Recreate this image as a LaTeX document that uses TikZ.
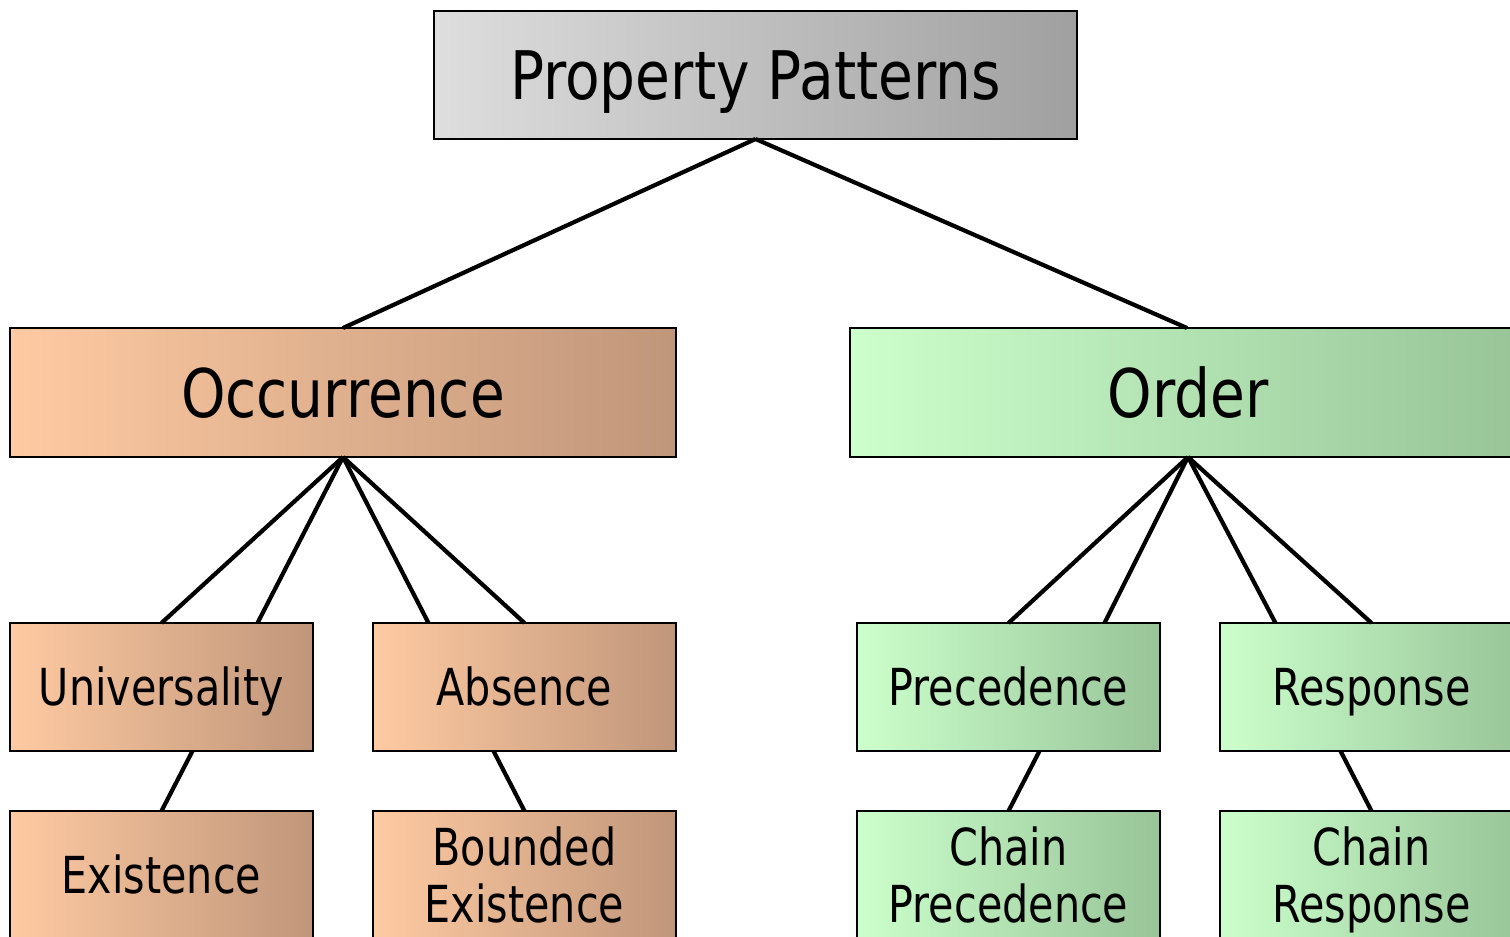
\documentclass[tikz,border=0pt]{standalone}
\usepackage{fontspec}
\setmainfont{DejaVu Sans}[FakeStretch=0.81]
\newfontfamily\headfont{DejaVu Sans}[FakeStretch=0.845]
\definecolor{grayL}{RGB}{222,222,222}
\definecolor{grayR}{RGB}{160,160,160}
\definecolor{peachL}{RGB}{254,202,162}
\definecolor{peachR}{RGB}{192,150,122}
\definecolor{greenL}{RGB}{204,255,204}
\definecolor{greenR}{RGB}{152,196,152}
\begin{document}
\begin{tikzpicture}[x=1pt,y=-1pt,
  box/.style={draw=black,line width=1.5pt,inner sep=0pt,outer sep=0pt,align=center},
  grayfill/.style={left color=grayL,right color=grayR},
  peach/.style={left color=peachL,right color=peachR},
  mint/.style={left color=greenL,right color=greenR},
  bigtext/.style={font=\headfont\fontsize{67}{75}\selectfont,text height=49pt,text depth=0pt},
  smalltext/.style={font=\fontsize{51}{57}\selectfont,text height=37pt,text depth=0pt},
  twoline/.style={font=\fontsize{51}{57}\selectfont,text depth=0pt},
  wide/.style={minimum width=666pt,minimum height=129pt},
  leaf/.style={minimum width=303pt,minimum height=128pt},
  link/.style={line width=4.2pt,black}]
\useasboundingbox (0,0) rectangle (1510,937);
\clip (0,0) rectangle (1510,937);

% root
\node[box,grayfill,bigtext,minimum width=643pt,minimum height=128pt] (pp) at (755.5,75) {Property Patterns};

% categories
\node[box,peach,bigtext,wide] (occ) at (343,392.5) {Occurrence};
\node[box,mint,bigtext,wide,minimum width=676pt] (ord) at (1188,392.5) {Order};

% occurrence patterns
\node[box,peach,smalltext,leaf] (uni) at (161.5,687) {Universality};
\node[box,peach,smalltext,leaf] (abs) at (524.5,687) {Absence};
\node[box,peach,smalltext,leaf] (ext) at (161.5,875) {Existence};
\node[box,peach,twoline,leaf] (bex) at (524.5,875) {Bounded\\Existence};

% order patterns
\node[box,mint,smalltext,leaf] (prec) at (1008.5,687) {Precedence};
\node[box,mint,smalltext,leaf] (resp) at (1371.5,687) {Response};
\node[box,mint,twoline,leaf] (cp) at (1008.5,875) {Chain\\Precedence};
\node[box,mint,twoline,leaf] (cr) at (1371.5,875) {Chain\\Response};

% connectors
\draw[link] (pp.south) -- (occ.north);
\draw[link] (pp.south) -- ([xshift=-1pt]ord.north);

\draw[link] (occ.south) -- (uni.north);
\draw[link] (occ.south) -- ([xshift=96pt]uni.north);
\draw[link] (occ.south) -- ([xshift=-96pt]abs.north);
\draw[link] (occ.south) -- (abs.north);

\draw[link] (ord.south) -- (prec.north);
\draw[link] (ord.south) -- ([xshift=96pt]prec.north);
\draw[link] (ord.south) -- ([xshift=-96pt]resp.north);
\draw[link] (ord.south) -- (resp.north);

\draw[link] ([xshift=31pt]uni.south) -- (ext.north);
\draw[link] ([xshift=-31pt]abs.south) -- (bex.north);
\draw[link] ([xshift=31pt]prec.south) -- (cp.north);
\draw[link] ([xshift=-31pt]resp.south) -- (cr.north);
\end{tikzpicture}
\end{document}
